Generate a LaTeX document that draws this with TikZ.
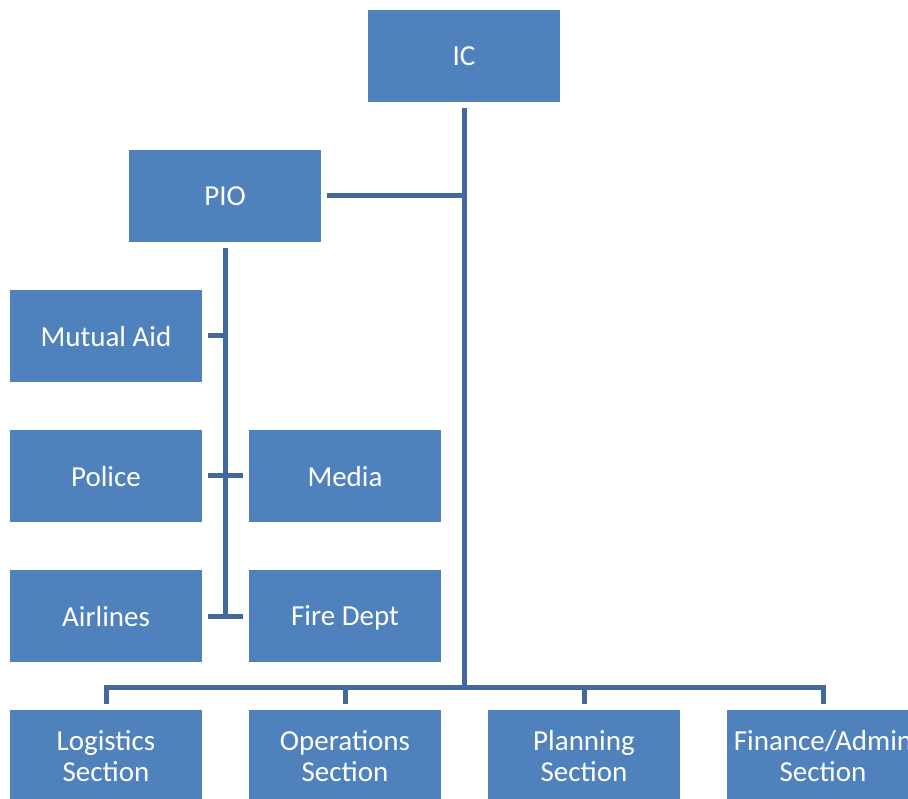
\documentclass[tikz,border=0pt]{standalone}
\usepackage{fontspec}
\setmainfont{Carlito}
\usepackage{xcolor}
\definecolor{boxblue}{HTML}{4F81BD}
\definecolor{lineblue}{HTML}{41699C}

\begin{document}
\begin{tikzpicture}[x=1pt,y=-1pt,
        unit/.style={fill=boxblue, text=white, minimum width=192pt, minimum height=92pt,
            inner sep=0pt, outer sep=6pt, align=center, text depth=0pt,
            font=\fontsize{29}{31}\selectfont},
        link/.style={draw=lineblue, line width=5pt}]
            \clip (0,0) rectangle (908,799);
            \node[unit] (ic) at (464,56) {IC};
            \node[unit] (pio) at (225,196) {PIO};
            \node[unit] (mutual) at (106,336) {Mutual Aid};
            \node[unit] (police) at (106,476) {Police};
            \node[unit] (media) at (345,476) {Media};
            \node[unit] (airlines) at (106,616) {Airlines};
            \node[unit] (firedept) at (345,616) {Fire Dept};
            \node[unit] (logistics) at (106,756) {Logistics\\Section};
            \node[unit] (operations) at (345,756) {Operations\\Section};
            \node[unit] (planning) at (584,756) {Planning\\Section};
            \node[unit] (finance) at (823,756) {Finance/Admin\\Section};
            \coordinate (bus) at (463,687);
            % IC down to the sections
            \draw[link] (ic.south) -- (ic.south |- bus);
            \draw[link] (logistics.north) -- (logistics.north |- bus) -- (finance.north |- bus) -- (finance.north);
            \draw[link] (operations.north) -- (operations.north |- bus);
            \draw[link] (planning.north) -- (planning.north |- bus);
            % PIO branch
            \draw[link] (pio.east) -- (pio.east -| ic.south);
            \draw[link] (pio.south) -- (pio.south |- airlines.east);
            \draw[link] (mutual.east) -- (mutual.east -| pio.south);
            \draw[link] (police.east) -- (media.west);
            \draw[link] (airlines.east) -- (firedept.west);
\end{tikzpicture}
\end{document}
